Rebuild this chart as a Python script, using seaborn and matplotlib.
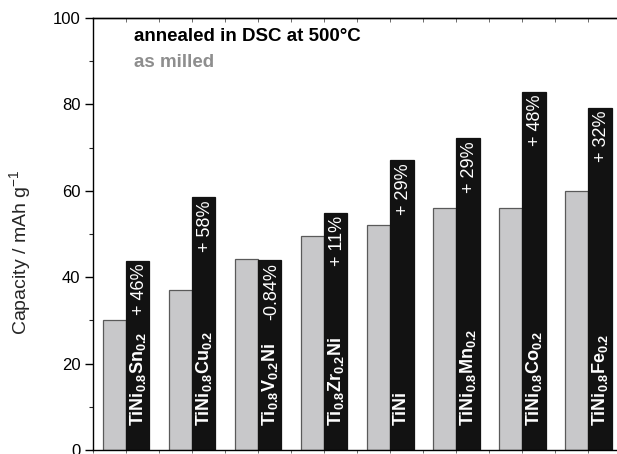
import numpy as np
import pandas as pd
import matplotlib
matplotlib.use("Agg")
import matplotlib.pyplot as plt
import seaborn as sns

# Discharge capacities of the alloys, as milled and after DSC annealing at 500 °C
alloys = [
    r"$\mathbf{TiNi_{0.8}Sn_{0.2}}$",
    r"$\mathbf{TiNi_{0.8}Cu_{0.2}}$",
    r"$\mathbf{Ti_{0.8}V_{0.2}Ni}$",
    r"$\mathbf{Ti_{0.8}Zr_{0.2}Ni}$",
    r"$\mathbf{TiNi}$",
    r"$\mathbf{TiNi_{0.8}Mn_{0.2}}$",
    r"$\mathbf{TiNi_{0.8}Co_{0.2}}$",
    r"$\mathbf{TiNi_{0.8}Fe_{0.2}}$",
]
as_milled = [30.0, 37.0, 44.3, 49.5, 52.0, 56.0, 56.0, 60.0]
annealed = [43.8, 58.5, 43.9, 54.9, 67.1, 72.2, 82.9, 79.2]
change_labels = ["+ 46%", "+ 58%", "-0.84%", "+ 11%", "+ 29%", "+ 29%", "+ 48%", "+ 32%"]
states = ["as milled", "annealed in DSC at 500\u00b0C"]
y_ticks = [0, 20, 40, 60, 80, 100]

sns.set_theme(style="ticks")
plt.rcParams["font.family"] = ["Liberation Sans", "DejaVu Sans"]
plt.rcParams["mathtext.fontset"] = "custom"
plt.rcParams["mathtext.rm"] = "Liberation Sans"
plt.rcParams["mathtext.it"] = "Liberation Sans:italic"
plt.rcParams["mathtext.bf"] = "Liberation Sans:bold"

df = pd.DataFrame({
    "alloy": alloys * 2,
    "capacity": as_milled + annealed,
    "state": [states[0]] * len(alloys) + [states[1]] * len(alloys),
})

gray_fill = "#c8c8ca"
black_fill = "#121212"

fig = plt.figure(figsize=(6.17, 4.54), dpi=100)
ax = fig.add_axes([0.1507, 0.0088, 0.856, 0.9516])

sns.barplot(data=df, x="alloy", y="capacity", hue="state", order=alloys,
            hue_order=states, palette={states[0]: gray_fill, states[1]: black_fill},
            width=0.71, legend=False, ax=ax, saturation=1)

for bar in ax.containers[0]:
    bar.set_edgecolor("#5a5a5a")
    bar.set_linewidth(0.9)
for bar in ax.containers[1]:
    bar.set_edgecolor("#121212")
    bar.set_linewidth(0.9)

ax.set_xlim(-0.5, 7.5)
ax.set_ylim(0, 100)
ax.set_xlabel("")
ax.set_ylabel("Capacity / mAh g$^{-1}$", fontsize=14)
ax.yaxis.set_label_coords(-0.114, 0.458)

ax.set_yticks(y_ticks)
ax.set_yticks(np.arange(10, 100, 20), minor=True)
ax.tick_params(axis="y", which="major", direction="out", length=6, width=1,
               labelsize=12, pad=3, colors="black")
ax.tick_params(axis="y", which="minor", direction="out", length=3, width=0.8)

xt = np.arange(-0.5, 7.51, 0.5)
ax.set_xticks(xt)
ax.set_xticklabels([])
ax.tick_params(axis="x", direction="out", length=2, width=0.6, color="#555555")

top = ax.secondary_xaxis("top")
top.set_xticks(xt)
top.set_xticklabels([])
top.tick_params(direction="in", length=3, width=0.6, color="#555555")
top.spines["top"].set_linewidth(1.0)

for s in ["left", "bottom", "top"]:
    ax.spines[s].set_visible(True)
    ax.spines[s].set_linewidth(1.0)
    ax.spines[s].set_color("black")

# Labels inside the annealed bars
dx = 0.71 / 4
for i, (name, val, lab) in enumerate(zip(alloys, annealed, change_labels)):
    ax.text(i + dx, 5.6, name, rotation=90, ha="center", va="bottom",
            color="white", fontsize=13)
    ax.text(i + dx + 0.03, val - 0.7, lab, rotation=90, ha="center", va="top",
            color="white", fontsize=13)

ax.text(0.077, 0.956, states[1], transform=ax.transAxes, fontsize=13.5,
        fontweight="bold", color="black", va="center", ha="left")
ax.text(0.077, 0.896, states[0], transform=ax.transAxes, fontsize=13.5,
        fontweight="bold", color="#8e8e8e", va="center", ha="left")

fig.savefig("out.png", dpi=100)
